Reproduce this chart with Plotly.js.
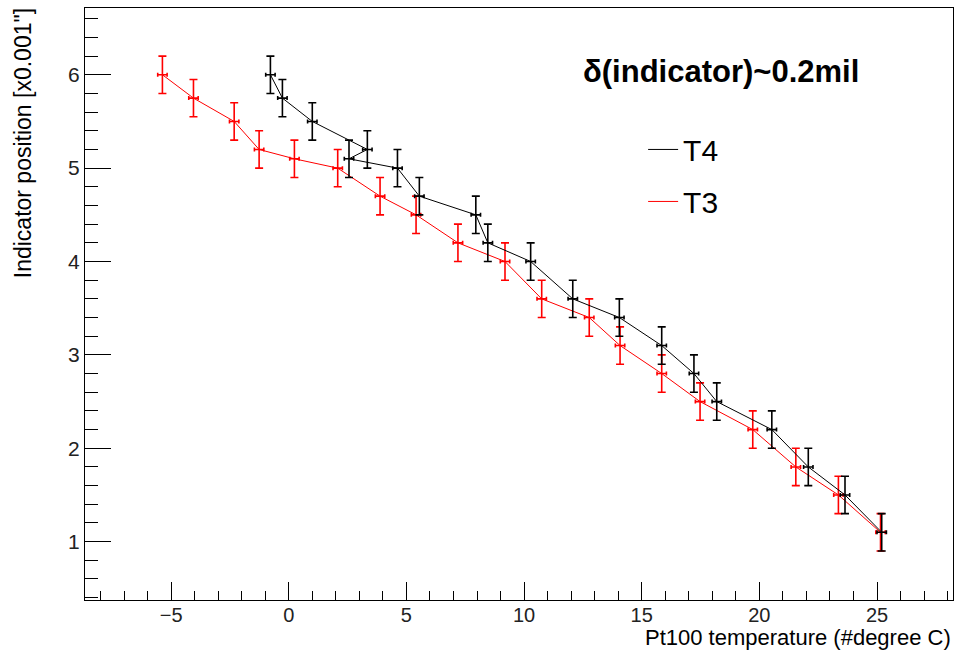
<!DOCTYPE html>
<html>
<head>
<meta charset="utf-8">
<script src="https://cdn.plot.ly/plotly-3.0.1.min.js"></script>
<style>html,body{margin:0;padding:0;background:#fff;}#chart{width:958px;height:652px;}</style>
</head>
<body>
<div id="chart"></div>
<script>
// T4 series (black), in drawing order
var t4_x = [-0.78, -0.27, 1.0, 3.34, 2.56, 4.62, 5.55, 7.95, 8.46, 10.28, 12.07, 14.05, 15.85, 17.22, 18.19, 20.53, 22.08, 23.64, 25.2];
var t4_y = [6.0, 5.75, 5.5, 5.2, 5.1, 5.0, 4.7, 4.5, 4.2, 4.0, 3.6, 3.4, 3.1, 2.8, 2.5, 2.2, 1.8, 1.5, 1.1];
var t4_xerr = [0.2, 0.2, 0.2, 0.2, 0.2, 0.2, 0.2, 0.2, 0.2, 0.2, 0.2, 0.2, 0.2, 0.2, 0.2, 0.2, 0.2, 0.2, 0.2];
var t4_yerr = [0.2, 0.2, 0.2, 0.2, 0.2, 0.2, 0.2, 0.2, 0.2, 0.2, 0.2, 0.2, 0.2, 0.2, 0.2, 0.2, 0.2, 0.2, 0.2];

// T3 series (red)
var t3_x = [-5.37, -4.05, -2.32, -1.26, 0.24, 2.08, 3.88, 5.41, 7.19, 9.19, 10.75, 12.77, 14.08, 15.85, 17.48, 19.72, 21.55, 23.36, 25.15];
var t3_y = [6.0, 5.75, 5.5, 5.2, 5.1, 5.0, 4.7, 4.5, 4.2, 4.0, 3.6, 3.4, 3.1, 2.8, 2.5, 2.2, 1.8, 1.5, 1.1];
var t3_xerr = [0.2, 0.2, 0.2, 0.2, 0.2, 0.2, 0.2, 0.2, 0.2, 0.2, 0.2, 0.2, 0.2, 0.2, 0.2, 0.2, 0.2, 0.2, 0.2];
var t3_yerr = [0.2, 0.2, 0.2, 0.2, 0.2, 0.2, 0.2, 0.2, 0.2, 0.2, 0.2, 0.2, 0.2, 0.2, 0.2, 0.2, 0.2, 0.2, 0.2];

var seriesNames = ["T3", "T4"];
var xTitle = "Pt100 temperature (#degree C)";
var yTitle = "Indicator position [x0.001\"]";
var noteText = "δ(indicator)~0.2mil";

var FONT = "Liberation Sans, Arial, Helvetica, sans-serif";

function mkTrace(x, y, xe, ye, name, color, grp, rank) {
  return {
    type: "scatter", mode: "lines", x: x, y: y, name: name, legendgroup: grp, legendrank: rank,
    line: {color: color, width: 1},
    error_y: {type: "data", array: ye, visible: true, color: color, thickness: 1.6, width: 4},
    error_x: {type: "data", array: xe, visible: true, color: color, thickness: 1.6, width: 2},
    hoverinfo: "x+y"
  };
}

var data = [
  mkTrace(t3_x, t3_y, t3_xerr, t3_yerr, seriesNames[0], "#ff0000", "g3", 2),
  mkTrace(t4_x, t4_y, t4_xerr, t4_yerr, seriesNames[1], "#000000", "g4", 1)
];

var layout = {
  width: 958, height: 652,
  margin: {l: 85, r: 5, t: 8, b: 52, pad: 0},
  paper_bgcolor: "#ffffff", plot_bgcolor: "#ffffff",
  font: {family: FONT, size: 21, color: "#000"},
  showlegend: true,
  legend: {
    x: 0.643, y: 0.805, xanchor: "left", yanchor: "top",
    bgcolor: "rgba(0,0,0,0)", borderwidth: 0,
    font: {family: FONT, size: 30, color: "#000"},
    traceorder: "grouped", tracegroupgap: 10
  },
  xaxis: {
    range: [-8.66, 28.23], showgrid: false, zeroline: false,
    showline: true, linecolor: "#000", linewidth: 1, mirror: true,
    ticks: "inside", ticklen: 18, tickwidth: 1, tickcolor: "#000",
    tick0: 0, dtick: 5, ticklabelstandoff: -3,
    minor: {dtick: 1, ticks: "inside", ticklen: 9, tickwidth: 1, tickcolor: "#000", showgrid: false},
    tickfont: {family: FONT, size: 20, color: "#222"}
  },
  yaxis: {
    range: [0.375, 6.715], showgrid: false, zeroline: false,
    showline: true, linecolor: "#000", linewidth: 1, mirror: true,
    ticks: "inside", ticklen: 26, tickwidth: 1, tickcolor: "#000",
    tick0: 0, dtick: 1,
    minor: {dtick: 0.2, ticks: "inside", ticklen: 13, tickwidth: 1, tickcolor: "#000", showgrid: false},
    tickfont: {family: FONT, size: 21, color: "#222"}
  },
  annotations: [
    {text: "<b>" + noteText + "</b>", xref: "paper", yref: "paper", x: 0.733, y: 0.892,
     xanchor: "center", yanchor: "middle", showarrow: false,
     font: {family: FONT, size: 31, color: "#000"}},
    {text: xTitle, xref: "paper", yref: "paper", x: 1.0, y: -0.0878,
     xanchor: "right", yanchor: "bottom", showarrow: false,
     font: {family: FONT, size: 22, color: "#000"}},
    {text: yTitle, xref: "paper", yref: "paper", x: -0.0714, y: 1.003,
     xanchor: "center", yanchor: "top", textangle: -90, showarrow: false,
     font: {family: FONT, size: 23, color: "#000"}}
  ]
};

Plotly.newPlot("chart", data, layout, {displayModeBar: false, staticPlot: true});
</script>
</body>
</html>
